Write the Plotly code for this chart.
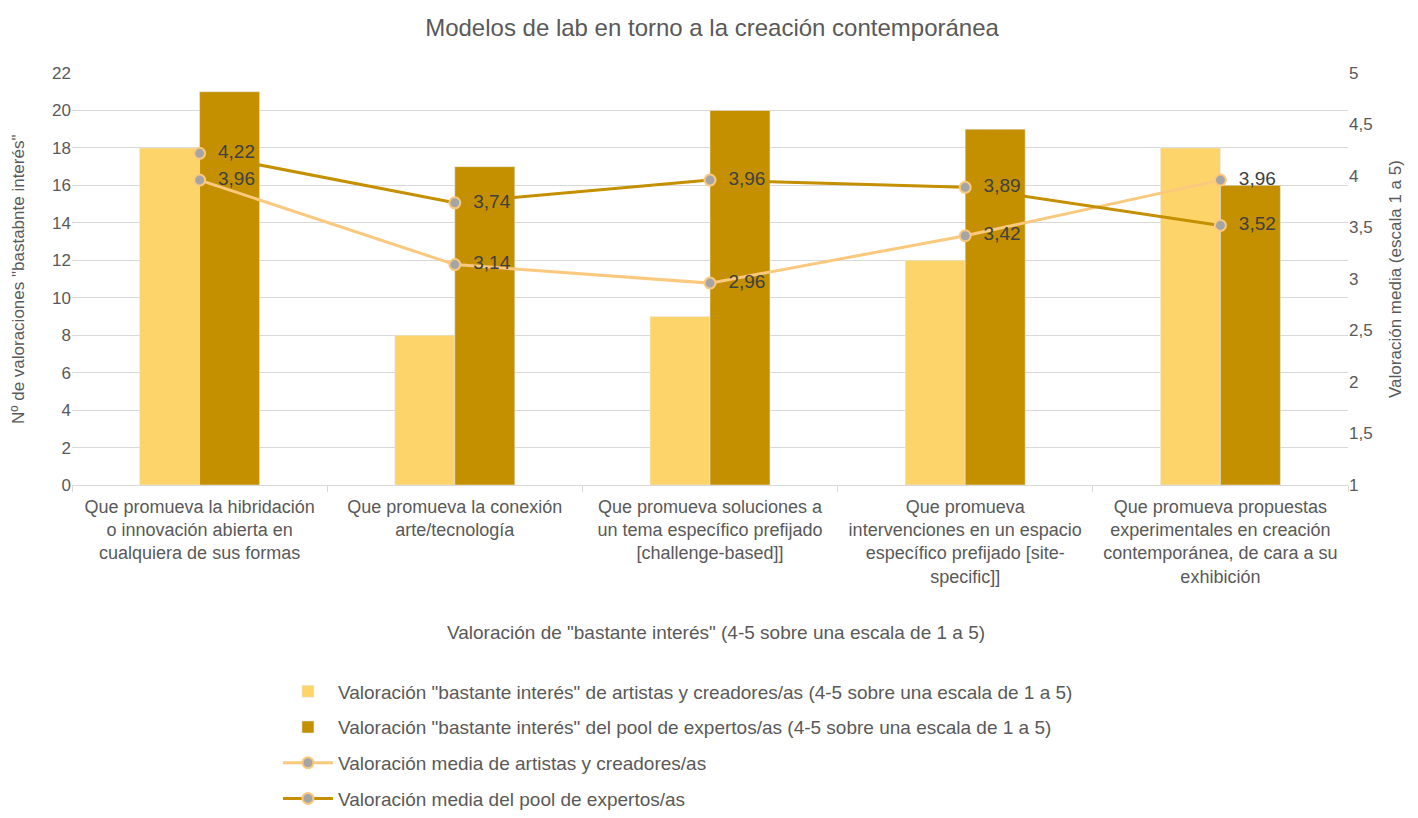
import plotly.graph_objects as go

categories = [
    "Que promueva la hibridación<br>o innovación abierta en<br>cualquiera de sus formas",
    "Que promueva la conexión<br>arte/tecnología",
    "Que promueva soluciones a<br>un tema específico prefijado<br>[challenge-based]]",
    "Que promueva<br>intervenciones en un espacio<br>específico prefijado [site-<br>specific]]",
    "Que promueva propuestas<br>experimentales en creación<br>contemporánea, de cara a su<br>exhibición",
]
bars_artistas = [18, 8, 9, 12, 18]
bars_expertos = [21, 17, 20, 19, 16]
media_artistas = [3.96, 3.14, 2.96, 3.42, 3.96]
media_expertos = [4.22, 3.74, 3.96, 3.89, 3.52]

names = [
    'Valoración "bastante interés" de artistas y creadores/as (4-5 sobre una escala de 1 a 5)',
    'Valoración "bastante interés" del pool de expertos/as (4-5 sobre una escala de 1 a 5)',
    "Valoración media de artistas y creadores/as",
    "Valoración media del pool de expertos/as",
]

LIGHT = "#FCD46A"
DARK = "#C49000"
LINE_LIGHT = "#FAC97E"
GREY = "#595959"
FONT = "Liberation Sans, Arial, sans-serif"

def fmt(v):
    return "  " + f"{v:.2f}".replace(".", ",")

fig = go.Figure()
fig.add_trace(go.Bar(x=categories, y=bars_artistas, name=names[0], marker_color=LIGHT,
                     legendgroup="a", offsetgroup="a"))
fig.add_trace(go.Bar(x=categories, y=bars_expertos, name=names[1], marker_color=DARK,
                     legendgroup="b", offsetgroup="b"))
fig.add_trace(go.Scatter(x=categories, y=media_artistas, name=names[2], yaxis="y2",
                         mode="lines+markers+text", line=dict(color=LINE_LIGHT, width=3),
                         marker=dict(color="#A5A5A5", size=11, line=dict(color=LINE_LIGHT, width=2)),
                         text=[fmt(v) for v in media_artistas], textposition="middle right",
                         textfont=dict(size=19, color="#404040", family=FONT),
                         legendgroup="c", cliponaxis=False))
fig.add_trace(go.Scatter(x=categories, y=media_expertos, name=names[3], yaxis="y2",
                         mode="lines+markers+text", line=dict(color=DARK, width=3),
                         marker=dict(color="#A5A5A5", size=11, line=dict(color=LINE_LIGHT, width=2)),
                         text=[fmt(v) for v in media_expertos], textposition="middle right",
                         textfont=dict(size=19, color="#404040", family=FONT),
                         legendgroup="d", cliponaxis=False))

fig.update_layout(
    width=1418, height=818,
    paper_bgcolor="white", plot_bgcolor="white",
    font=dict(family=FONT, color=GREY, size=17),
    separators=",.",
    title=dict(text="Modelos de lab en torno a la creación contemporánea", x=0.4965, xanchor="center",
               y=1 - 20 / 818, yanchor="middle", font=dict(size=24, color=GREY)),
    margin=dict(l=64, r=78, t=65, b=341, autoexpand=False),
    barmode="group", bargap=0.53, bargroupgap=0,
    xaxis=dict(showgrid=False, showline=True, linecolor="#D9D9D9", ticks="outside",
               tickson="boundaries", ticklen=6, tickcolor="#D9D9D9", ticklabelstandoff=5,
               tickfont=dict(size=18, color=GREY)),
    yaxis=dict(range=[0, 22], dtick=2, showgrid=True, gridcolor="#D9D9D9", zeroline=False,
               tickfont=dict(size=17, color=GREY)),
    yaxis2=dict(range=[1, 5], dtick=0.5, overlaying="y", side="right", showgrid=False,
                zeroline=False, tickfont=dict(size=17, color=GREY), tickformat=".1~f"),
    legend=dict(x=0.1614, y=-0.455, xanchor="left", yanchor="top", orientation="v",
                font=dict(size=19, color=GREY), tracegroupgap=8, traceorder="grouped",
                itemwidth=50, bgcolor="rgba(0,0,0,0)"),
    showlegend=True,
)
fig.add_annotation(text='Valoración de "bastante interés" (4-5 sobre una escala de 1 a 5)',
                   xref="paper", yref="paper", x=0.505, y=-0.3568, xanchor="center", yanchor="middle",
                   showarrow=False, font=dict(size=19, color=GREY))
fig.add_annotation(text='Nº de valoraciones "bastabnte interés"', textangle=-90,
                   xref="paper", yref="paper", x=-0.0423, y=0.5, xanchor="center", yanchor="middle",
                   showarrow=False, font=dict(size=17, color=GREY))
fig.add_annotation(text="Valoración media (escala 1 a 5)", textangle=-90,
                   xref="paper", yref="paper", x=1.0368, y=0.5, xanchor="center", yanchor="middle",
                   showarrow=False, font=dict(size=17, color=GREY))

fig.write_html("out.html")
